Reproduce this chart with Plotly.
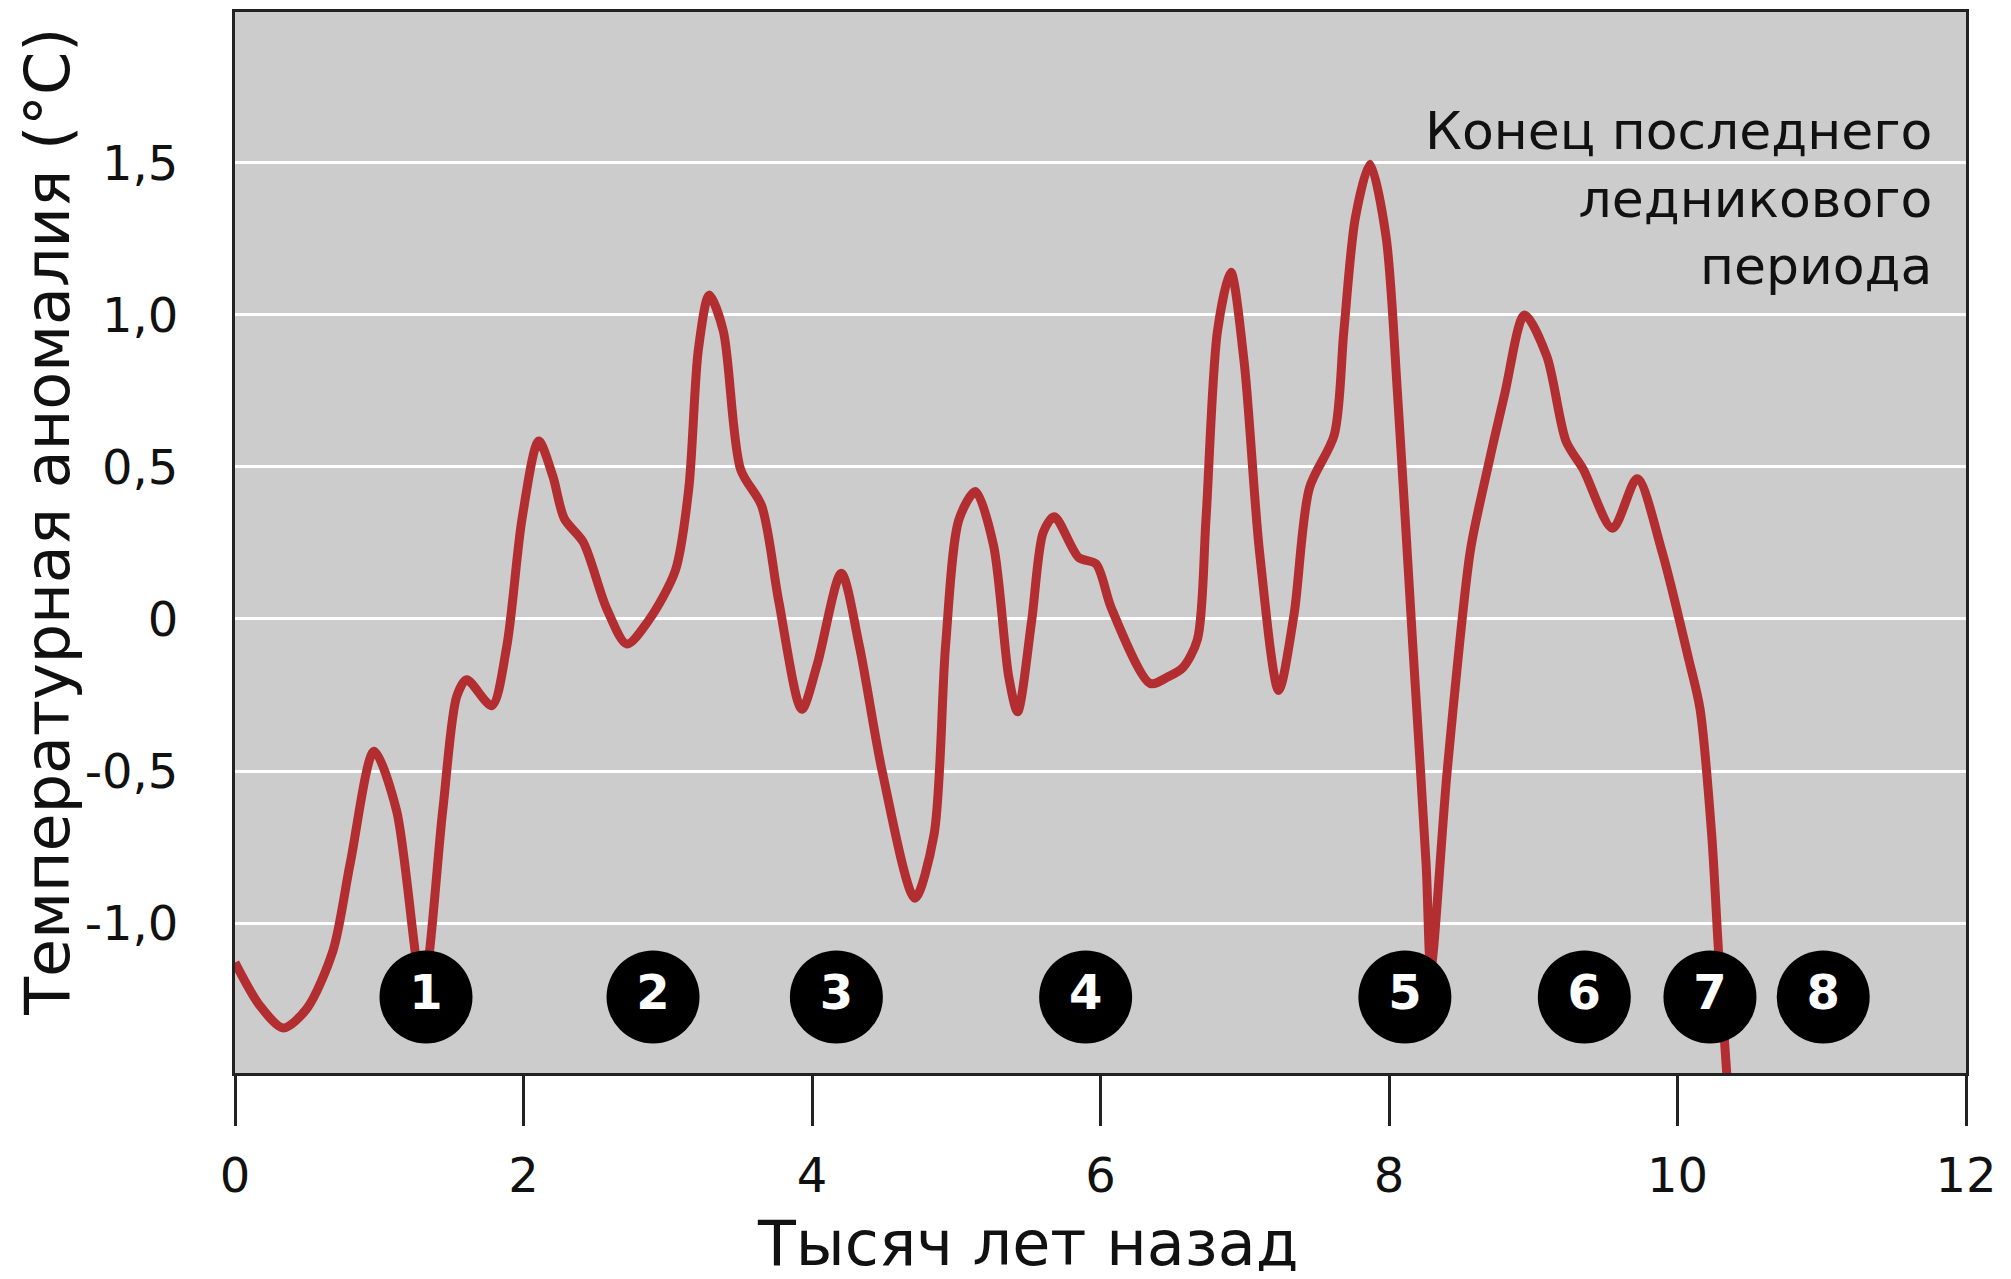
import plotly.graph_objects as go

# Curve: thousands of years ago vs temperature anomaly (°C)
years_ago = [0.0, 0.17, 0.335, 0.50, 0.68, 0.80, 0.964, 1.12, 1.30, 1.44, 1.537, 1.606,
             1.78, 1.884, 1.99, 2.105, 2.203, 2.283, 2.415, 2.575, 2.716, 2.867, 3.053,
             3.146, 3.212, 3.287, 3.385, 3.505, 3.651, 3.77, 3.929, 4.036, 4.203, 4.328,
             4.487, 4.713, 4.846, 4.926, 5.018, 5.133, 5.258, 5.364, 5.425, 5.523, 5.603,
             5.68, 5.849, 5.969, 6.075, 6.345, 6.465, 6.571, 6.672, 6.731, 6.811, 6.903,
             6.996, 7.102, 7.235, 7.342, 7.448, 7.621, 7.687, 7.767, 7.868, 7.979, 8.059,
             8.165, 8.258, 8.29, 8.403, 8.563, 8.643, 8.802, 8.94, 9.094, 9.227, 9.347,
             9.55, 9.72, 9.892, 10.076, 10.156, 10.237, 10.283, 10.34, 10.36]
anomaly = [-1.13, -1.27, -1.345, -1.28, -1.09, -0.80, -0.435, -0.63, -1.22, -0.63, -0.255, -0.20,
           -0.285, -0.09, 0.33, 0.585, 0.47, 0.33, 0.252, 0.036, -0.082, -0.005, 0.16,
           0.43, 0.885, 1.065, 0.947, 0.492, 0.372, 0.057, -0.297, -0.15, 0.15, -0.088,
           -0.502, -0.918, -0.709, -0.088, 0.326, 0.419, 0.243, -0.191, -0.305, -0.005, 0.285,
           0.336, 0.202, 0.181, 0.036, -0.212, -0.191, -0.16, -0.067, 0.326, 0.947, 1.14,
           0.844, 0.223, -0.235, 0.016, 0.43, 0.606, 0.947, 1.32, 1.495, 1.259, 0.741,
           -0.088, -0.813, -1.15, -0.502, 0.222, 0.409, 0.74, 1.0, 0.864, 0.585, 0.492,
           0.298, 0.461, 0.223, -0.129, -0.295, -0.709, -1.082, -1.485, -1.6]

# Numbered event markers
marker_x = [1.324, 2.898, 4.169, 5.897, 8.11, 9.354, 10.225, 11.01]
marker_y = [-1.243] * 8
marker_labels = ["1", "2", "3", "4", "5", "6", "7", "8"]

x_ticks = [0, 2, 4, 6, 8, 10, 12]
y_ticks = [-1.0, -0.5, 0, 0.5, 1.0, 1.5]
y_tick_labels = ["-1,0", "-0,5", "0", "0,5", "1,0", "1,5"]

FONT = "DejaVu Sans"

fig = go.Figure()
fig.add_trace(go.Scatter(
    x=years_ago, y=anomaly, mode="lines",
    line=dict(color="#b22e30", width=9, shape="spline", smoothing=0.8),
    hoverinfo="skip", showlegend=False))
fig.add_trace(go.Scatter(
    x=marker_x, y=marker_y, mode="markers+text",
    marker=dict(size=93, color="black", line=dict(width=0)),
    text=marker_labels, textposition="middle center",
    textfont=dict(family=FONT, size=48, color="white", weight="bold"),
    hoverinfo="skip", showlegend=False))

fig.update_layout(
    width=1995, height=1263,
    margin=dict(l=227, r=37, t=1, b=198, pad=0),
    paper_bgcolor="white", plot_bgcolor="#cccccc",
    font=dict(family=FONT, color="#111111"),
    xaxis=dict(range=[0, 12], tickvals=x_ticks, ticks="outside", ticklen=50,
               tickwidth=3, tickcolor="#222222", showgrid=False, zeroline=False,
               showline=True, linecolor="#222222", linewidth=3, mirror=True,
               tickfont=dict(family=FONT, size=48, color="#111111"),
               ticklabelstandoff=8),
    yaxis=dict(range=[-1.493, 1.996], tickvals=y_ticks, ticktext=y_tick_labels,
               ticks="", showgrid=True, gridcolor="white", gridwidth=3,
               zeroline=False, showline=True, linecolor="#222222", linewidth=3,
               mirror=True, tickfont=dict(family=FONT, size=48, color="#111111"),
               ticklabelstandoff=44),
    annotations=[
        dict(text="Конец последнего<br>ледникового<br>периода", xref="paper", yref="paper",
             x=0.9815, y=0.8238, xanchor="right", yanchor="middle", align="right",
             showarrow=False, font=dict(family=FONT, size=52, color="#111111")),
        dict(text="Тысяч лет назад", xref="paper", yref="paper",
             x=0.458, y=-0.161, xanchor="center", yanchor="middle",
             showarrow=False, font=dict(family=FONT, size=62, color="#111111")),
        dict(text="Температурная аномалия (°C)", xref="paper", yref="paper",
             x=-0.1085, y=0.5197, xanchor="center", yanchor="middle", textangle=-90,
             showarrow=False, font=dict(family=FONT, size=62, color="#111111")),
    ],
)

fig.write_html("out.html")
